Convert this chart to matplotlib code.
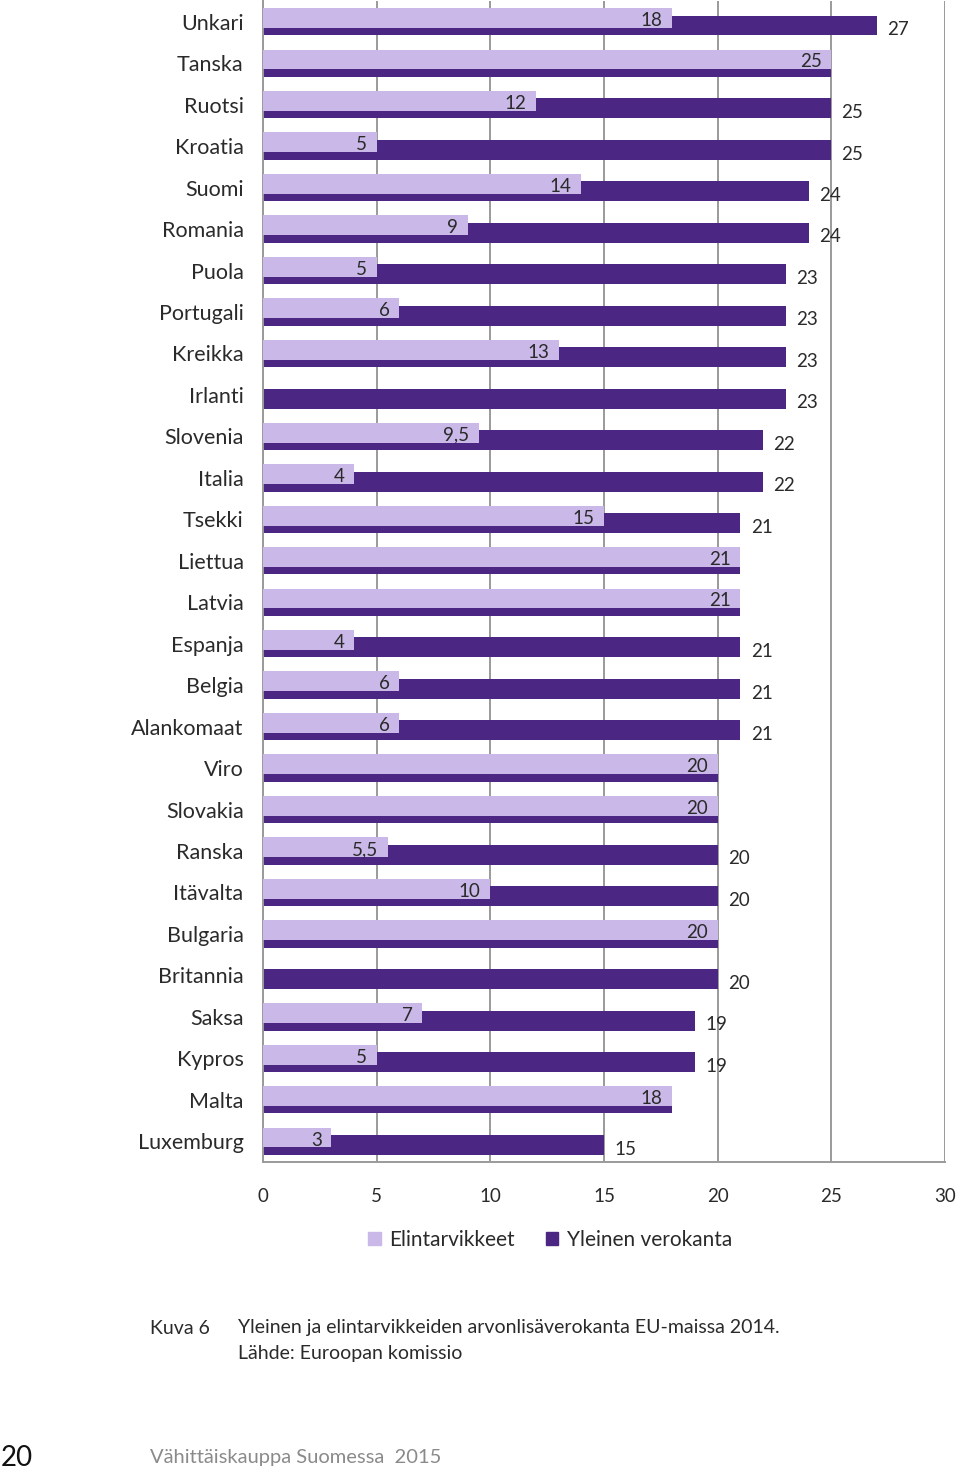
import numpy as np
import matplotlib
matplotlib.use('Agg')
import matplotlib.pyplot as plt

plt.rcParams['font.family'] = ['Lato', 'DejaVu Sans']

countries = ['Unkari', 'Tanska', 'Ruotsi', 'Kroatia', 'Suomi', 'Romania', 'Puola',
             'Portugali', 'Kreikka', 'Irlanti', 'Slovenia', 'Italia', 'Tsekki',
             'Liettua', 'Latvia', 'Espanja', 'Belgia', 'Alankomaat', 'Viro',
             'Slovakia', 'Ranska', 'Itävalta', 'Bulgaria', 'Britannia', 'Saksa',
             'Kypros', 'Malta', 'Luxemburg']
food = [18, 25, 12, 5, 14, 9, 5, 6, 13, 0, 9.5, 4, 15, 21, 21, 4, 6, 6, 20,
        20, 5.5, 10, 20, 0, 7, 5, 18, 3]
general = [27, 25, 25, 25, 24, 24, 23, 23, 23, 23, 22, 22, 21, 21, 21, 21, 21,
           21, 20, 20, 20, 20, 20, 20, 19, 19, 18, 15]
xticks = [0, 5, 10, 15, 20, 25, 30]

light = '#c9b8e8'
dark = '#4b2683'
grid_c = '#9a9a9a'
txt = '#2a2a2a'


def fmt(v):
    return ('%g' % v).replace('.', ',')


fig = plt.figure(figsize=(9.6, 14.76), dpi=100)
ax = fig.add_axes([263 / 960, 1 - 1162 / 1476, 682 / 960, 1161 / 1476])

y = np.arange(len(countries))
h = 0.48
off = 0.09
ax.barh(y + off, general, height=h, color=dark, zorder=2)
ax.barh(y - off, food, height=h, color=light, zorder=3)

for i in range(len(countries)):
    if food[i] > 0:
        ax.text(food[i] - 0.42, y[i] - off + 0.06, fmt(food[i]), ha='right',
                va='center', fontsize=13.5, color=txt, zorder=4)
    if general[i] != food[i]:
        ax.text(general[i] + 0.45, y[i] + off + 0.1, fmt(general[i]),
                ha='left', va='center', fontsize=13.5, color=txt, zorder=4)

ax.set_xlim(0, 30)
ax.set_ylim(len(countries) - 0.5, -0.5)
ax.set_xticks(xticks)
ax.set_xticklabels([str(t) for t in xticks], fontsize=13.5, color=txt)
ax.set_yticks(y)
ax.set_yticklabels(countries, fontsize=15.5, color=txt)
ax.tick_params(axis='x', length=0, pad=19)
ax.tick_params(axis='y', length=0, pad=14)
ax.xaxis.grid(True, color=grid_c, linewidth=1.4, zorder=0)
ax.set_axisbelow(True)
for s in ['top', 'right']:
    ax.spines[s].set_visible(False)
for s in ['left', 'bottom']:
    ax.spines[s].set_color(grid_c)
    ax.spines[s].set_linewidth(1.4)

handles = [plt.Rectangle((0, 0), 1, 1, color=light),
           plt.Rectangle((0, 0), 1, 1, color=dark)]
fig.legend(handles, ['Elintarvikkeet', 'Yleinen verokanta'], loc='center',
           bbox_to_anchor=(550 / 960, 1 - 1240 / 1476), ncol=2, frameon=False,
           fontsize=15, handlelength=0.6, handleheight=0.6, handletextpad=0.4,
           columnspacing=1.5, labelcolor=txt)

fig.text(150 / 960, 1 - 1328 / 1476, 'Kuva 6', fontsize=14, va='center',
         color=txt)
fig.text(238 / 960, 1 - 1328 / 1476,
         'Yleinen ja elintarvikkeiden arvonlisäverokanta EU-maissa 2014.',
         fontsize=14, va='center', color=txt)
fig.text(238 / 960, 1 - 1353 / 1476, 'Lähde: Euroopan komissio', fontsize=14,
         va='center', color=txt)
fig.text(1 / 960, 1 - 1458 / 1476, '20', fontsize=20, va='center',
         color='#111111')
fig.text(150 / 960, 1 - 1458 / 1476, 'Vähittäiskauppa Suomessa  2015',
         fontsize=14.5, va='center', color='#8a8a8a')

fig.savefig('out.png', dpi=100)
